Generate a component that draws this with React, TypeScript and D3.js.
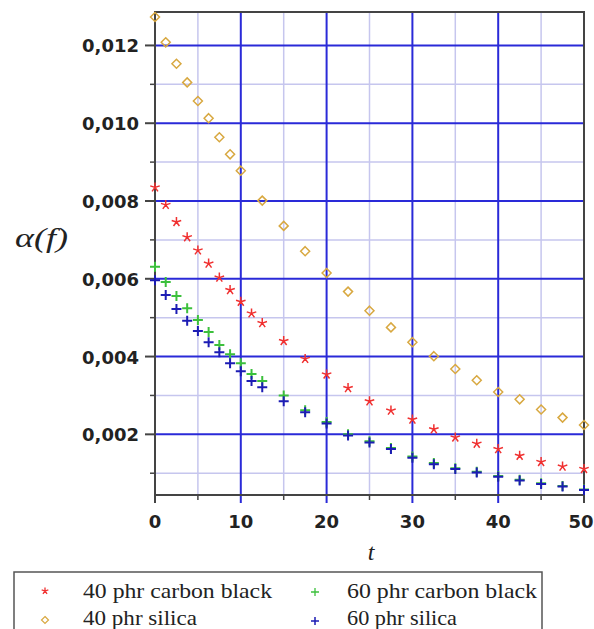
import React from "react";
import * as d3 from "d3";

const T_MAIN = [0, 1.25, 2.5, 3.75, 5, 6.25, 7.5, 8.75, 10, 11.25, 12.5, 15, 17.5, 20, 22.5, 25, 27.5, 30, 32.5, 35, 37.5, 40, 42.5, 45, 47.5, 50];
const T_SILICA40 = [0, 1.25, 2.5, 3.75, 5, 6.25, 7.5, 8.75, 10, 12.5, 15, 17.5, 20, 22.5, 25, 27.5, 30, 32.5, 35, 37.5, 40, 42.5, 45, 47.5, 50];

const CB40 = [0.00835, 0.0079, 0.00746, 0.00707, 0.00673, 0.00639, 0.00603, 0.00571, 0.00541, 0.00511, 0.00486, 0.0044, 0.00394, 0.00354, 0.00319, 0.00285, 0.00261, 0.00238, 0.00213, 0.00192, 0.00176, 0.00162, 0.00145, 0.00129, 0.00117, 0.00111];
const SILICA40 = [0.01273, 0.01208, 0.01153, 0.01105, 0.01057, 0.01013, 0.00964, 0.0092, 0.00878, 0.00801, 0.00736, 0.00671, 0.00615, 0.00567, 0.00518, 0.00475, 0.00437, 0.00401, 0.00368, 0.00339, 0.00309, 0.0029, 0.00264, 0.00243, 0.00224];
const CB60 = [0.00631, 0.00592, 0.00556, 0.00524, 0.00494, 0.00463, 0.0043, 0.00406, 0.00383, 0.00355, 0.00337, 0.003, 0.00262, 0.00232, 0.002, 0.00182, 0.00165, 0.00143, 0.00126, 0.00113, 0.00104, 0.00093, 0.00083, 0.00074, 0.00067, 0.00058];
const SILICA60 = [0.00596, 0.00558, 0.00522, 0.00492, 0.00466, 0.00437, 0.00411, 0.00383, 0.00362, 0.00337, 0.00321, 0.00285, 0.00257, 0.00228, 0.00197, 0.00179, 0.00162, 0.0014, 0.00123, 0.00111, 0.00102, 0.00091, 0.00081, 0.00072, 0.00066, 0.00057];

const X_MAJOR = [0, 10, 20, 30, 40, 50];
const X_MINOR = [5, 15, 25, 35, 45];
const Y_MAJOR = [0.002, 0.004, 0.006, 0.008, 0.01, 0.012];
const Y_MAJOR_LABELS = ["0,002", "0,004", "0,006", "0,008", "0,010", "0,012"];
const Y_MINOR = [0.001, 0.003, 0.005, 0.007, 0.009, 0.011];

const LEGEND = ["40 phr carbon black", "40 phr silica", "60 phr carbon black", "60 phr silica"];

const RED = "#f03030";
const GOLD = "#d8a840";
const GREEN = "#3cc03c";
const BLUE = "#1c1cb4";
const MAJOR = "#2a2ad8";
const MINOR = "#c6c6ee";
const AXIS = "#444";

function Star({ x, y, r, color, w }: { x: number; y: number; r: number; color: string; w: number }) {
  const arms = [0, 1, 2, 3, 4].map((i) => {
    const a = (-90 + i * 72) * Math.PI / 180;
    return `M${x},${y}L${x + r * Math.cos(a)},${y + r * Math.sin(a)}`;
  });
  return <path d={arms.join("")} stroke={color} strokeWidth={w} fill="none" />;
}
function Diamond({ x, y, r, color, w }: { x: number; y: number; r: number; color: string; w: number }) {
  return <path d={`M${x},${y - r}L${x + r},${y}L${x},${y + r}L${x - r},${y}Z`} stroke={color} strokeWidth={w} fill="none" />;
}
function Cross({ x, y, r, color, w }: { x: number; y: number; r: number; color: string; w: number }) {
  return <path d={`M${x - r},${y}L${x + r},${y}M${x},${y - r}L${x},${y + r}`} stroke={color} strokeWidth={w} fill="none" />;
}

const serifStyle = { fontFamily: '"Liberation Serif", "DejaVu Serif", "Times New Roman", Times, serif' };

export default function App() {
  const x = d3.scaleLinear().domain([0, 50]).range([155, 584]);
  const y = d3.scaleLinear().domain([0.00044, 0.01286]).range([495, 12]);
  const [x0, x1] = x.range();
  const [yb, yt] = y.range();
  const tickStyle = { fontFamily: '"DejaVu Sans", Verdana, sans-serif', fontWeight: 700 };

  return (
    <svg width={594} height={629} style={{ position: "absolute", left: 0, top: 0, background: "#fff" }}>
      {X_MINOR.map((v) => (
        <line key={"xm" + v} x1={x(v)} x2={x(v)} y1={yt} y2={yb} stroke={MINOR} strokeWidth={1.5} />
      ))}
      {Y_MINOR.map((v) => (
        <line key={"ym" + v} x1={x0} x2={x1} y1={y(v)} y2={y(v)} stroke={MINOR} strokeWidth={1.5} />
      ))}
      {X_MAJOR.filter((v) => v > 0 && v < 50).map((v) => (
        <line key={"xM" + v} x1={x(v)} x2={x(v)} y1={yt} y2={yb + 8} stroke={MAJOR} strokeWidth={2} />
      ))}
      {Y_MAJOR.map((v) => (
        <line key={"yM" + v} x1={x0} x2={x1} y1={y(v)} y2={y(v)} stroke={MAJOR} strokeWidth={2} />
      ))}
      {Y_MAJOR.map((v) => (
        <line key={"yt" + v} x1={x0 - 10} x2={x0} y1={y(v)} y2={y(v)} stroke={AXIS} strokeWidth={2} />
      ))}
      {Y_MINOR.map((v) => (
        <line key={"ytm" + v} x1={x0 - 5} x2={x0} y1={y(v)} y2={y(v)} stroke={AXIS} strokeWidth={1.5} />
      ))}
      {X_MINOR.map((v) => (
        <line key={"xtm" + v} x1={x(v)} x2={x(v)} y1={yb} y2={yb + 5} stroke={AXIS} strokeWidth={1.5} />
      ))}
      <line x1={x0} x2={x0} y1={yb} y2={yb + 8} stroke={AXIS} strokeWidth={2} />
      <line x1={x1} x2={x1} y1={yb} y2={yb + 8} stroke={AXIS} strokeWidth={2} />
      <rect x={x0} y={yt} width={x1 - x0} height={yb - yt} fill="none" stroke={AXIS} strokeWidth={2} />

      {Y_MAJOR.map((v, i) => (
        <text key={"yl" + v} x={139} y={y(v) + 7} textAnchor="end" style={tickStyle} fontSize={18} fill="#222">
          {Y_MAJOR_LABELS[i]}
        </text>
      ))}
      {X_MAJOR.map((v) => (
        <text key={"xl" + v} x={v === 50 ? x(v) - 3 : x(v)} y={528} textAnchor="middle" style={tickStyle} fontSize={18} fill="#222">
          {v}
        </text>
      ))}

      <text x={371} y={560} textAnchor="middle" style={{ ...serifStyle, fontStyle: "italic" }} fontSize={24} fill="#222">t</text>
      <text x={15} y={247} style={{ ...serifStyle, fontStyle: "italic" }} fontSize={28} fill="#222" textLength={53} lengthAdjust="spacingAndGlyphs">α(f)</text>

      {SILICA40.map((v, i) => (
        <Diamond key={"s40" + i} x={x(T_SILICA40[i])} y={y(v)} r={4.5} color={GOLD} w={1.5} />
      ))}
      {CB40.map((v, i) => (
        <Star key={"c40" + i} x={x(T_MAIN[i])} y={y(v)} r={5} color={RED} w={1.5} />
      ))}
      {CB60.map((v, i) => (
        <Cross key={"c60" + i} x={x(T_MAIN[i])} y={y(v)} r={5} color={GREEN} w={2} />
      ))}
      {SILICA60.map((v, i) => (
        <Cross key={"s60" + i} x={x(T_MAIN[i])} y={y(v)} r={5} color={BLUE} w={2} />
      ))}

      <rect x={14} y={572} width={528} height={80} fill="none" stroke="#555" strokeWidth={1.5} />
      <Star x={45} y={591} r={3.5} color={RED} w={1.3} />
      <Diamond x={45} y={620} r={3.5} color={GOLD} w={1.2} />
      <Cross x={315} y={592} r={4} color={GREEN} w={1.3} />
      <Cross x={315} y={621} r={4} color={BLUE} w={1.5} />
      <text x={83} y={598} style={serifStyle} fontSize={21} fill="#222" textLength={189} lengthAdjust="spacingAndGlyphs">{LEGEND[0]}</text>
      <text x={83} y={625} style={serifStyle} fontSize={21} fill="#222" textLength={114} lengthAdjust="spacingAndGlyphs">{LEGEND[1]}</text>
      <text x={347} y={598} style={serifStyle} fontSize={21} fill="#222" textLength={190} lengthAdjust="spacingAndGlyphs">{LEGEND[2]}</text>
      <text x={347} y={625} style={serifStyle} fontSize={21} fill="#222" textLength={110} lengthAdjust="spacingAndGlyphs">{LEGEND[3]}</text>
    </svg>
  );
}
